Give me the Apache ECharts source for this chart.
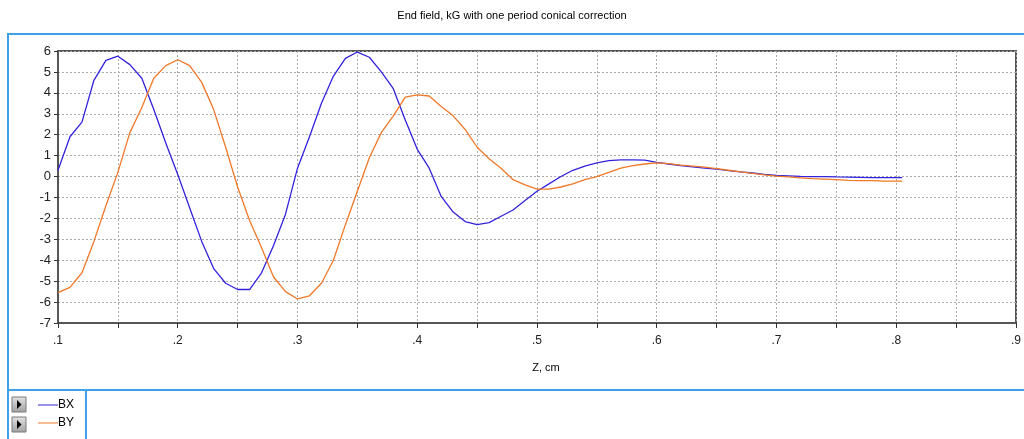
<!DOCTYPE html>
<html>
<head>
<meta charset="utf-8">
<script src="https://cdn.jsdelivr.net/npm/echarts@6/dist/echarts.min.js"></script>
<style>
html,body{margin:0;padding:0;background:#fff;}
#chart{width:1024px;height:439px;}
</style>
</head>
<body>
<div id="chart"></div>
<script>
const titleText = 'End field, kG with one period conical correction';
const xAxisName = 'Z, cm';
const seriesNames = ['BX', 'BY'];
const zValues = [0.10,0.11,0.12,0.13,0.14,0.15,0.16,0.17,0.18,0.19,
  0.20,0.21,0.22,0.23,0.24,0.25,0.26,0.27,0.28,0.29,
  0.30,0.31,0.32,0.33,0.34,0.35,0.36,0.37,0.38,0.39,
  0.40,0.41,0.42,0.43,0.44,0.45,0.46,0.47,0.48,0.49,
  0.50,0.51,0.52,0.53,0.54,0.55,0.56,0.57,0.58,0.59,
  0.60,0.61,0.62,0.63,0.64,0.65,0.66,0.67,0.68,0.69,
  0.70,0.71,0.72,0.73,0.74,0.75,0.76,0.77,0.78,0.79,
  0.80,0.805];
const bxValues = [0.3,1.9,2.6,4.6,5.55,5.75,5.35,4.7,3.2,1.6,
  0.1,-1.5,-3.1,-4.4,-5.1,-5.4,-5.4,-4.6,-3.3,-1.8,
  0.4,1.9,3.5,4.8,5.65,5.95,5.7,5.0,4.2,2.7,
  1.3,0.4,-0.95,-1.7,-2.15,-2.3,-2.2,-1.9,-1.6,-1.15,
  -0.7,-0.35,0.0,0.3,0.5,0.65,0.76,0.8,0.8,0.78,
  0.68,0.6,0.52,0.46,0.4,0.35,0.28,0.22,0.17,0.1,
  0.05,0.03,0.01,0.0,0.0,-0.02,-0.03,-0.04,-0.05,-0.05,
  -0.05,-0.05];
const byValues = [-5.55,-5.3,-4.6,-3.1,-1.4,0.2,2.1,3.3,4.7,5.3,
  5.58,5.3,4.5,3.2,1.4,-0.5,-2.1,-3.4,-4.8,-5.5,
  -5.85,-5.7,-5.1,-4.0,-2.3,-0.7,0.9,2.1,2.9,3.8,
  3.9,3.85,3.35,2.9,2.25,1.4,0.85,0.4,-0.15,-0.4,
  -0.6,-0.6,-0.5,-0.35,-0.15,0.0,0.2,0.4,0.52,0.6,
  0.65,0.62,0.55,0.5,0.45,0.38,0.3,0.22,0.15,0.08,
  0.02,-0.02,-0.06,-0.1,-0.12,-0.15,-0.18,-0.2,-0.2,-0.22,
  -0.22,-0.22];

const colors = ['#3322dd', '#f07828'];
const FONT = '"Liberation Sans", Arial, sans-serif';

const chart = echarts.init(document.getElementById('chart'), null, {renderer: 'canvas'});

function pairs(ys) { return zValues.map((z, i) => [z, ys[i]]); }

function button(y) {
  return [
    {type: 'rect', shape: {x: 12, y: y, width: 14, height: 15},
     style: {fill: new echarts.graphic.LinearGradient(0,0,0,1,[{offset:0,color:'#e4e4e4'},{offset:1,color:'#a0a0a0'}]), stroke: '#7a7a7a', lineWidth: 1}, silent: true},
    {type: 'polygon', shape: {points: [[17, y + 3], [17, y + 12], [21.5, y + 7.5]]},
     style: {fill: '#000'}, silent: true}
  ];
}

const option = {
  backgroundColor: '#fff',
  animation: false,
  title: {
    text: titleText, left: 'center', top: 5,
    textStyle: {fontFamily: FONT, fontSize: 11, fontWeight: 'normal', color: '#000'}
  },
  legend: {
    orient: 'vertical', left: 33, top: 394, itemGap: 6,
    itemWidth: 20, itemHeight: 14, icon: 'path://M0,6.6 L20,6.6 L20,7.6 L0,7.6 Z',
    textStyle: {fontFamily: FONT, fontSize: 12, color: '#000', padding: [0,0,0,-5]},
    data: seriesNames, selectedMode: false
  },
  grid: {
    left: 58, right: 8, top: 51, bottom: 116,
    show: true, borderColor: '#555', borderWidth: 2, backgroundColor: 'transparent'
  },
  xAxis: {
    type: 'value', min: 0.1, max: 0.9, interval: 0.05,
    name: xAxisName, nameLocation: 'middle', nameGap: 39,
    nameTextStyle: {fontFamily: FONT, fontSize: 11, color: '#000', padding: [0,0,0,18]},
    axisLine: {show: true, onZero: false, lineStyle: {color: '#555', width: 2}},
    axisTick: {show: true, length: 5, lineStyle: {color: '#333', width: 1}},
    axisLabel: {
      fontFamily: FONT, fontSize: 12, color: '#222', margin: 12,
      formatter: function (v) {
        const r = Math.round(v * 100);
        if (r % 10 !== 0) return '';
        return '.' + (r / 10);
      }
    },
    splitLine: {show: true, lineStyle: {color: '#aaa', type: [2, 2], width: 1}}
  },
  yAxis: {
    type: 'value', min: -7, max: 6, interval: 1,
    axisLine: {show: true, onZero: false, lineStyle: {color: '#555', width: 2}},
    axisTick: {show: true, length: 4, lineStyle: {color: '#333', width: 1}},
    axisLabel: {fontFamily: FONT, fontSize: 13, color: '#222', margin: 7},
    splitLine: {show: true, lineStyle: {color: '#aaa', type: [2, 2], width: 1}}
  },
  series: [
    {name: seriesNames[0], type: 'line', data: pairs(bxValues), showSymbol: false, symbol: 'none',
     lineStyle: {color: colors[0], width: 1.3}, itemStyle: {color: colors[0]}},
    {name: seriesNames[1], type: 'line', data: pairs(byValues), showSymbol: false, symbol: 'none',
     lineStyle: {color: colors[1], width: 1.3}, itemStyle: {color: colors[1]}}
  ],
  graphic: [
    {type: 'rect', shape: {x: 8, y: 34, width: 1030, height: 356},
     style: {fill: 'none', stroke: '#40a0e8', lineWidth: 2}, silent: true, z: -1},
    {type: 'rect', shape: {x: 8, y: 390, width: 78, height: 60},
     style: {fill: 'none', stroke: '#40a0e8', lineWidth: 2}, silent: true, z: -1}
  ].concat(button(397), button(417))
};
chart.setOption(option);
</script>
</body>
</html>
